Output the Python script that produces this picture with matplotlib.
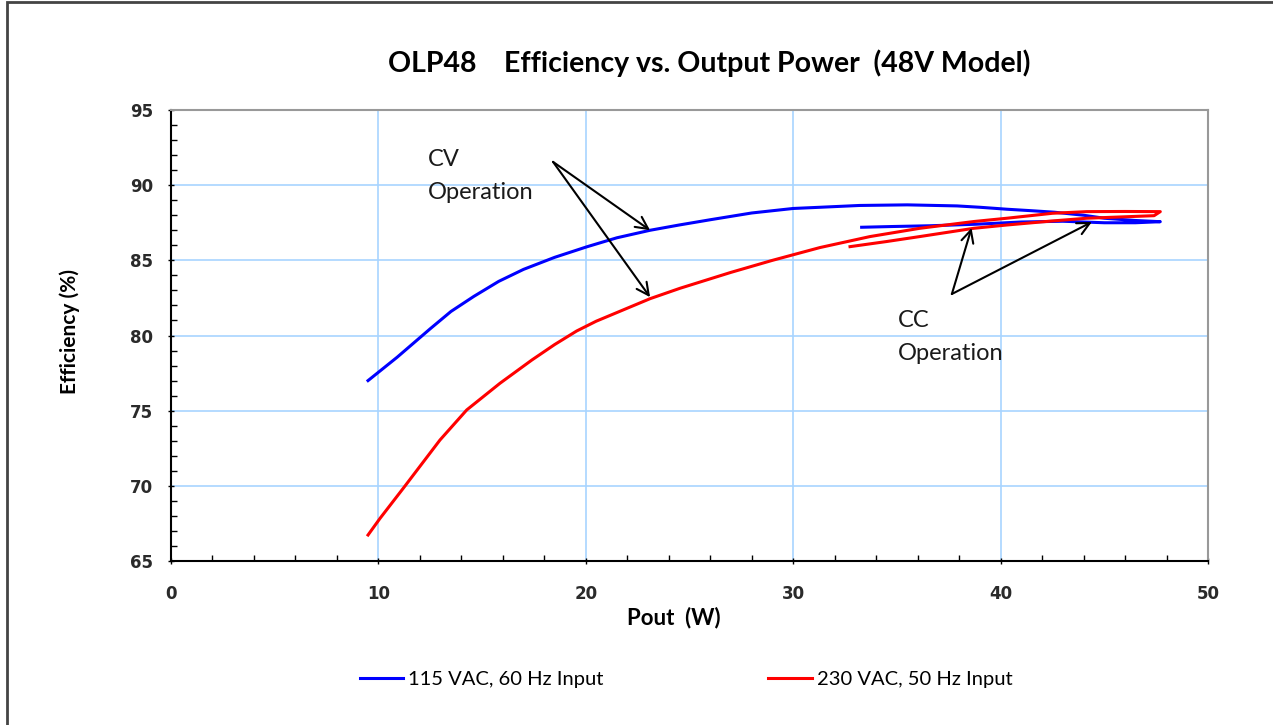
import matplotlib
matplotlib.use('Agg')
import matplotlib.pyplot as plt
from matplotlib.patches import Rectangle
from matplotlib.ticker import MultipleLocator

# 115 VAC curve: CV part going up in power, then CC part coming back
pout_115 = [9.5, 10.9, 11.7, 12.5, 13.5, 14.6, 15.8, 17.0, 18.5, 20.05, 21.5, 23.1,
            24.5, 26.0, 28.0, 30.0, 31.3, 33.2, 35.5, 37.9, 39.0, 40.3, 41.5, 42.6,
            44.0, 45.0, 46.5, 47.7,
            46.5, 45.0, 43.0, 41.0, 38.8, 36.6, 34.8, 33.3]
eff_115 = [77.0, 78.55, 79.5, 80.45, 81.6, 82.6, 83.6, 84.4, 85.2, 85.9, 86.5, 87.0,
           87.35, 87.7, 88.15, 88.45, 88.53, 88.65, 88.69, 88.62, 88.53, 88.4, 88.3, 88.2,
           88.0, 87.8, 87.65, 87.57,
           87.5, 87.5, 87.6, 87.55, 87.4, 87.3, 87.25, 87.2]

# 230 VAC curve
pout_230 = [9.5, 10.08, 11.2, 12.97, 14.26, 15.86, 17.4, 18.5, 19.56, 20.5, 21.8, 23.1,
            24.54, 27.0, 29.0, 31.29, 33.7, 36.1, 38.7, 40.3, 42.5, 44.15, 46.0, 47.7,
            47.4, 44.15, 42.5, 40.3, 38.7, 36.1, 34.5, 32.74]
eff_230 = [66.73, 67.84, 69.84, 73.05, 75.05, 76.82, 78.37, 79.4, 80.3, 80.95, 81.7, 82.45,
           83.14, 84.2, 85.0, 85.85, 86.58, 87.13, 87.58, 87.8, 88.13, 88.24, 88.25, 88.24,
           87.97, 87.8, 87.62, 87.35, 87.13, 86.58, 86.25, 85.91]

series_labels = ['115 VAC, 60 Hz Input', '230 VAC, 50 Hz Input']

# annotation arrows (data coords)
cv_start = (18.42, 91.55)
cv_ends = [(23.1, 87.0), (23.1, 82.55)]
cc_start = (37.65, 82.76)
cc_ends = [(38.6, 87.15), (44.4, 87.55)]

txt_font = ['Lato', 'DejaVu Sans']

fig = plt.figure(figsize=(12.73, 7.25), dpi=100)
ax = fig.add_axes([171 / 1273, 1 - 561 / 725, (1208 - 171) / 1273, (561 - 110) / 725])

ax.plot(pout_115, eff_115, color='#0000ff', lw=2.2, label=series_labels[0], zorder=3)
ax.plot(pout_230, eff_230, color='#ff0000', lw=2.2, label=series_labels[1], zorder=3)

ax.set_xlim(0, 50)
ax.set_ylim(65, 95)
ax.xaxis.set_major_locator(MultipleLocator(10))
ax.xaxis.set_minor_locator(MultipleLocator(2))
ax.yaxis.set_major_locator(MultipleLocator(5))
ax.yaxis.set_minor_locator(MultipleLocator(1))
ax.grid(True, which='major', color='#a8d4ff', lw=1.2, zorder=0)
ax.tick_params(which='minor', direction='in', length=4, width=1, color='black')
ax.tick_params(which='major', direction='inout', length=4, width=1, color='black')
ax.tick_params(axis='x', which='major', pad=15)
ax.tick_params(axis='y', which='major', pad=11)
for lab in ax.get_xticklabels() + ax.get_yticklabels():
    lab.set_fontfamily('DejaVu Sans')
    lab.set_fontweight('bold')
    lab.set_fontsize(12)
    lab.set_color('#2a2a2a')
ax.spines['left'].set_color('black')
ax.spines['bottom'].set_color('black')
ax.spines['left'].set_linewidth(1.5)
ax.spines['bottom'].set_linewidth(1.5)
ax.spines['top'].set_color('#999999')
ax.spines['right'].set_color('#999999')
ax.spines['top'].set_linewidth(1.5)
ax.spines['right'].set_linewidth(1.5)

ann_size = 17
ax.text(12.39, 91.68, 'CV', family=txt_font, fontsize=ann_size, va='center', ha='left',
        color='#1a1a1a')
ax.text(12.39, 89.48, 'Operation', family=txt_font, fontsize=ann_size, va='center',
        ha='left', color='#1a1a1a')
ax.text(35.05, 81.03, 'CC', family=txt_font, fontsize=ann_size, va='center', ha='left',
        color='#1a1a1a')
ax.text(35.05, 78.77, 'Operation', family=txt_font, fontsize=ann_size, va='center',
        ha='left', color='#1a1a1a')
for start, ends in [(cv_start, cv_ends), (cc_start, cc_ends)]:
    for end in ends:
        ax.annotate('', xy=end, xytext=start,
                    arrowprops=dict(arrowstyle='->', color='black', lw=1.5,
                                    mutation_scale=22, shrinkA=0, shrinkB=0),
                    zorder=4)

fig.text(388 / 1273, 1 - 63 / 725, 'OLP48    Efficiency vs. Output Power  (48V Model)',
         family=txt_font, fontsize=20.5, fontweight='bold', ha='left', va='center')
fig.text(70 / 1273, 1 - 331 / 725, 'Efficiency (%)', family=txt_font, fontsize=15,
         fontweight='bold', rotation=90, ha='center', va='center')
fig.text(674 / 1273, 1 - 618 / 725, 'Pout  (W)', family=txt_font, fontsize=16,
         fontweight='bold', ha='center', va='center')

leg = fig.legend(loc='center', bbox_to_anchor=(686 / 1273, 1 - 679 / 725), ncol=2,
                 frameon=False, handlelength=2.15, handletextpad=0.25,
                 columnspacing=8.2, prop={'family': txt_font, 'size': 14.5})
for line in leg.get_lines():
    line.set_linewidth(2.2)

fig.patches.append(Rectangle((7 / 1273, -0.1), 1.1, 1.1 - 2 / 725,
                             transform=fig.transFigure, fill=False,
                             edgecolor='#444444', lw=2, figure=fig))

fig.savefig('out.png', dpi=100)
